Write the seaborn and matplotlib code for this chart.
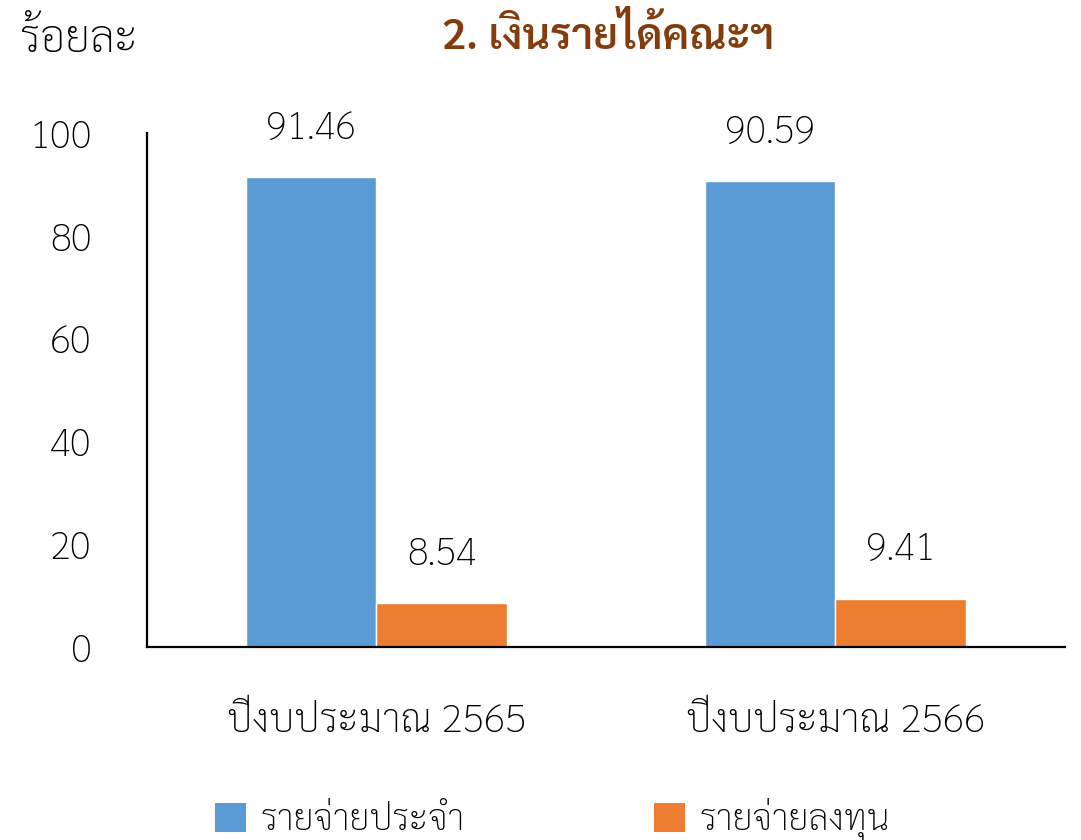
import matplotlib
matplotlib.use('Agg')
import pandas as pd
import seaborn as sns
import matplotlib.pyplot as plt
from matplotlib.patches import Patch

# data
years = ['ปีงบประมาณ 2565', 'ปีงบประมาณ 2566']
series = ['รายจ่ายประจำ', 'รายจ่ายลงทุน']
recurrent = [91.46, 90.59]
investment = [8.54, 9.41]
colors = ['#5B9BD5', '#ED7D31']

df = pd.DataFrame({
    'year': years * 2,
    'type': [series[0]] * 2 + [series[1]] * 2,
    'value': recurrent + investment,
})

sns.set_style('white')
plt.rcParams['font.family'] = ['Sarabun', 'DejaVu Sans']
plt.rcParams['font.weight'] = 'light'
plt.rcParams['text.color'] = 'black'
plt.rcParams['xtick.color'] = 'black'
plt.rcParams['ytick.color'] = 'black'

fig = plt.figure(figsize=(10.81, 8.4), dpi=100)
ax = fig.add_axes([0.136, 0.2298, 0.849, 0.6119])

sns.barplot(data=df, x='year', y='value', hue='type', palette=colors,
            width=0.57, gap=0, saturation=1, ax=ax, legend=False)

for cont in ax.containers:
    for bar in cont:
        h = bar.get_height()
        ax.annotate(f'{h:.2f}', (bar.get_x() + bar.get_width() / 2, h),
                    xytext=(0, 21), textcoords='offset points',
                    ha='center', va='bottom', fontsize=27.5)

ax.set_xlim(-0.5, 1.5)
ax.set_ylim(0, 100)
ax.set_yticks(range(0, 101, 20))
ax.set_xlabel('')
ax.set_ylabel('')
for s in ['top', 'right']:
    ax.spines[s].set_visible(False)
for s in ['left', 'bottom']:
    ax.spines[s].set_linewidth(1.6)
    ax.spines[s].set_color('black')
ax.tick_params(axis='y', direction='in', length=11, width=1.6, labelsize=28, pad=40)
ax.tick_params(axis='x', length=0, labelsize=28.5, pad=40)
for lab in ax.get_yticklabels():
    lab.set_horizontalalignment('right')

fig.text(0.018, 0.952, 'ร้อยละ', fontsize=32, va='center', ha='left')
fig.text(0.563, 0.955, '2. เงินรายได้คณะฯ', fontsize=31, fontweight='semibold',
         color='#843C0C', va='center', ha='center')

handles = [Patch(facecolor=c, edgecolor='none') for c in colors]
fig.legend(handles, series, loc='lower left', bbox_to_anchor=(0.169, -0.04),
           ncol=2, frameon=False, fontsize=26, handlelength=0.85, handleheight=0.85,
           handletextpad=0.4, columnspacing=5.26)

fig.savefig('out.png', dpi=100)
